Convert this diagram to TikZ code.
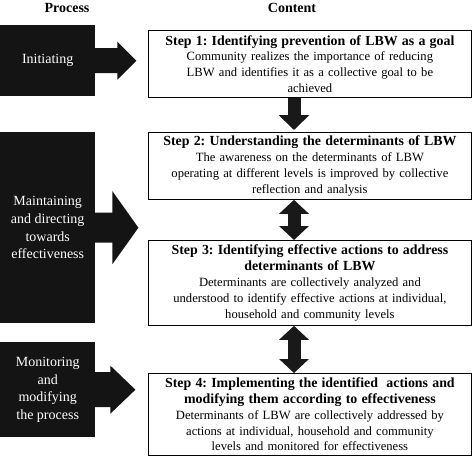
\documentclass[tikz,border=0pt]{standalone}
\usepackage{fontspec}
\setmainfont{Liberation Serif}
\usetikzlibrary{calc,arrows.meta}
\frenchspacing

\tikzset{
  stepbox/.style={draw=black, line width=0.8pt, fill=white, anchor=north west,
    minimum width=323pt, text width=318pt, inner sep=2pt, align=center,
    font=\fontsize{12.6}{15.8}\selectfont},
  procbox/.style={fill=black!92, text=white, anchor=north west, minimum width=95pt,
    inner sep=0pt, align=center, font=\fontsize{14}{17.6}\selectfont},
  headlabel/.style={font=\bfseries\fontsize{14}{15}\selectfont},
  linkarrow/.style={black!90, line width=13pt, -{Triangle[length=15pt,width=30pt]}},
  bothlinkarrow/.style={black!90, line width=13pt,
    {Triangle[length=14pt,width=29pt]}-{Triangle[length=14pt,width=29pt]}},
}
\newcommand{\steptitle}[1]{{\bfseries\fontsize{13.9}{15.8}\selectfont #1}}
% fat arrow out of a process box: node, shaft length, shaft half, head half, head length
\newcommand{\procarrow}[5]{\fill[black!92] ($(#1.east)+(-1,-#3)$) -- ($(#1.east)+(#2,-#3)$)
  -- ($(#1.east)+(#2,-#4)$) -- ($(#1.east)+(#2+#5,0)$) -- ($(#1.east)+(#2,#4)$)
  -- ($(#1.east)+(#2,#3)$) -- ($(#1.east)+(-1,#3)$) -- cycle;}

\begin{document}
\begin{tikzpicture}[x=1pt,y=-1pt]
		%%%%% START %%%%%
		\useasboundingbox[fill=white] (0,0) rectangle (473,459);
		
		\node[headlabel] (hproc) at (67,8) {Process};
		\node[headlabel] (hcont) at (292,8) {Content};
		
		% process column
		\node[procbox, minimum height=71pt] (init) at (0,25) {Initiating};
		\node[procbox, minimum height=191pt] (maint) at (0,132) {Maintaining\\and directing\\towards\\effectiveness};
		\node[procbox, minimum height=95pt] (monit) at (0,342) {Monitoring\\and\\modifying\\the process};
		
		\procarrow{init}{22}{12.5}{19}{19}
		\procarrow{maint}{17}{15}{36.5}{26}
		\procarrow{monit}{15}{17.5}{24}{25}
		
		% content column
		\node[stepbox, minimum height=67pt] (step1) at (148,30) {\steptitle{Step 1: Identifying prevention of LBW as a goal}\\
			Community realizes the importance of reducing\\
			LBW and identifies it as a collective goal to be\\
			achieved};
		\node[stepbox, minimum height=67pt] (step2) at (148,132) {\steptitle{Step 2: Understanding the determinants of LBW}\\
			The awareness on the determinants of LBW\\
			operating at different levels is improved by collective\\
			reflection and analysis};
		\node[stepbox, minimum height=85pt] (step3) at (148,240) {\steptitle{Step 3: Identifying effective actions to address}\\
			\steptitle{determinants of LBW}\\
			Determinants are collectively analyzed and\\
			understood to identify effective actions at individual,\\
			household and community levels};
		\node[stepbox, minimum height=82pt] (step4) at (148,373) {\steptitle{Step 4: Implementing the identified\ \ actions and}\\
			\steptitle{modifying them according to effectiveness}\\
			Determinants of LBW are collectively addressed by\\
			actions at individual, household and community\\
			levels and monitored for effectiveness};
		
		% links between steps
		\coordinate (ax) at (294,0);
		\draw[linkarrow, shorten >=2pt] (step1.south -| ax) -- (step2.north -| ax);
		\draw[bothlinkarrow] (step2.south -| ax) -- (step3.north -| ax);
		\draw[bothlinkarrow] (step3.south -| ax) -- (step4.north -| ax);
		
		%%%%% END %%%%%
\end{tikzpicture}
\end{document}
